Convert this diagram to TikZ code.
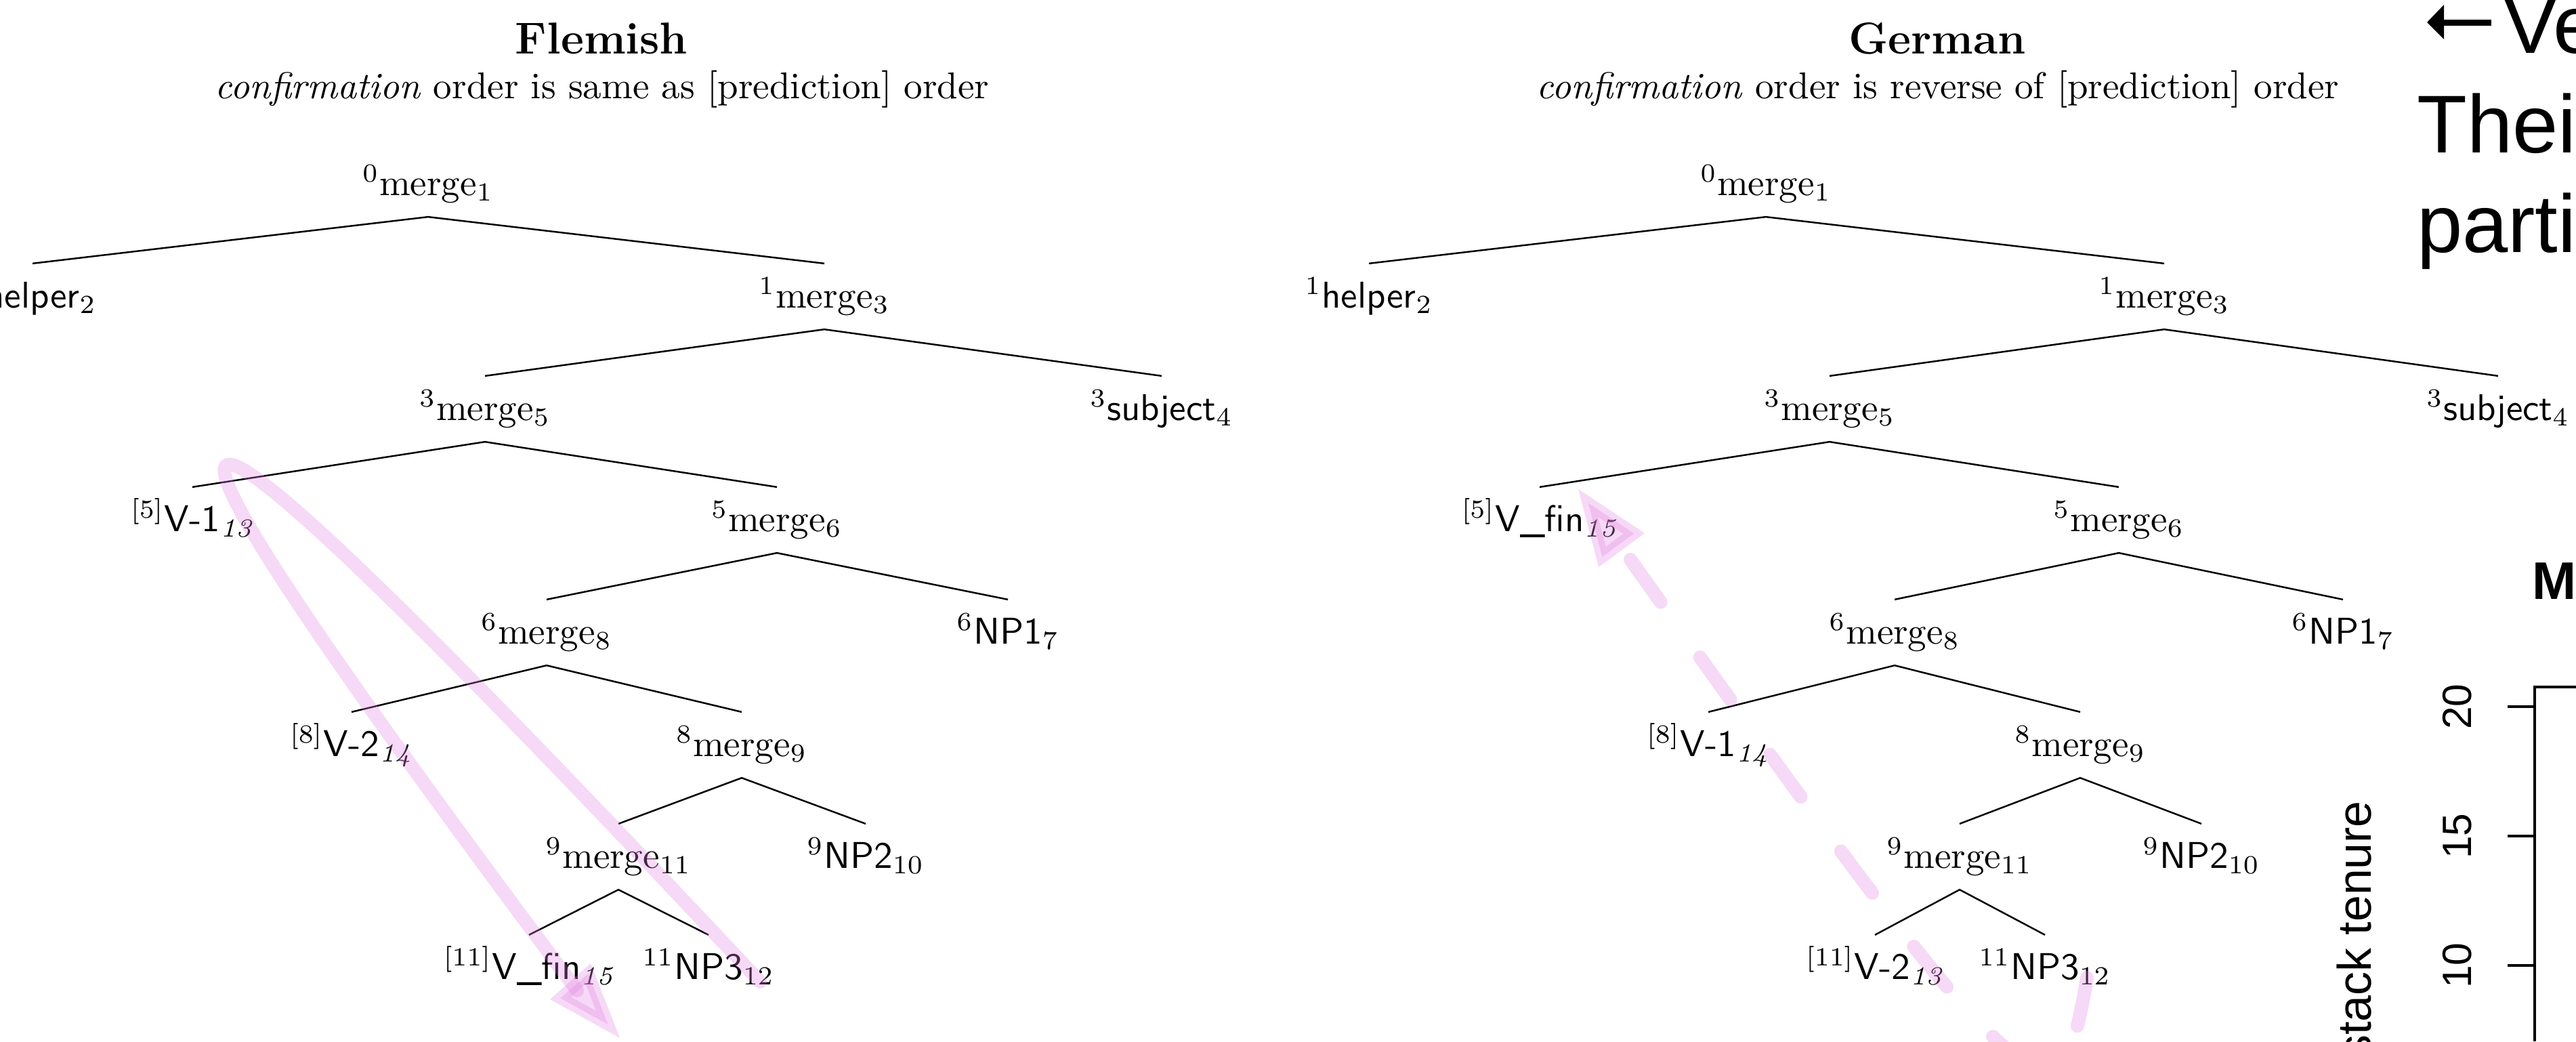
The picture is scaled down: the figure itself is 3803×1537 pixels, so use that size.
\documentclass[tikz,border=0pt]{standalone}
\usepackage{fontspec}
\newfontfamily\helv{Liberation Sans}
\usetikzlibrary{arrows.meta}
\definecolor{hl}{RGB}{228,130,226}
\begin{document}
\begin{tikzpicture}[x=0.181818pt,y=-0.181818pt,
  tn/.style={anchor=base,inner sep=0pt,text height=11.64pt,text depth=5.64pt,font=\fontsize{10}{12}\selectfont},
  branch/.style={line width=0.45pt},
  hlpath/.style={draw=hl,opacity=0.3,line width=3.64pt,line cap=round},
  hlhead/.style={draw=hl,fill=hl,opacity=0.3,line width=3.27pt,line join=miter},
  hldash/.style={dash pattern=on 14pt off 18.18pt},
  ttl/.style={anchor=base,inner sep=0pt,font=\fontsize{12}{14}\selectfont\bfseries},
  subttl/.style={anchor=base,inner sep=0pt,font=\fontsize{10}{12}\selectfont},
  bigtxt/.style={anchor=base west,inner sep=0pt,font=\helv\fontsize{22}{26}\selectfont},
  axline/.style={line width=0.73pt},
  ticklab/.style={rotate=90,anchor=base,inner sep=0pt,font=\helv\fontsize{11}{13}\selectfont},
]
\useasboundingbox (0,0) rectangle (3803,1537);
\fill[white] (0,0) rectangle (3803,1537);

% ---------- titles ----------
\node[ttl] (ftitle) at (888,79) {Flemish};
\node[subttl] (fsub) at (889,145) {\textit{confirmation} order is same as [prediction] order};
\node[ttl] (gtitle) at (2860,79) {German};
\node[subttl] (gsub) at (2861,145) {\textit{confirmation} order is reverse of [prediction] order};

% ---------- Flemish tree ----------
\node[tn] (f0)  at (632,288)  {$^{0}$merge$_{1}$};
\node[tn] (f1)  at (48,454)   {$^{1}$\textsf{helper}$_{2}$};
\node[tn] (f2)  at (1217,454) {$^{1}$merge$_{3}$};
\node[tn] (f3)  at (716,620)  {$^{3}$merge$_{5}$};
\node[tn] (f4)  at (1715,620) {$^{3}$\textsf{subject}$_{4}$};
\node[tn] (f5)  at (284,784)  {$^{[5]}$\textsf{V-1}$_{\mathit{13}}$};
\node[tn] (f6)  at (1147,784) {$^{5}$merge$_{6}$};
\node[tn] (f7)  at (807,950)  {$^{6}$merge$_{8}$};
\node[tn] (f8)  at (1488,950) {$^{6}$\textsf{NP1}$_{7}$};
\node[tn] (f9)  at (519,1116) {$^{[8]}$\textsf{V-2}$_{\mathit{14}}$};
\node[tn] (f10) at (1095,1116) {$^{8}$merge$_{9}$};
\node[tn] (f11) at (913,1281) {$^{9}$merge$_{11}$};
\node[tn] (f12) at (1278,1281) {$^{9}$\textsf{NP2}$_{10}$};
\node[tn] (f13) at (781,1445) {$^{[11]}$\textsf{V\_fin}$_{\mathit{15}}$};
\node[tn] (f14) at (1046,1445) {$^{11}$\textsf{NP3}$_{12}$};

\draw[branch] (f1.north) -- (f0.south) -- (f2.north);
\draw[branch] (f3.north) -- (f2.south) -- (f4.north);
\draw[branch] (f5.north) -- (f3.south) -- (f6.north);
\draw[branch] (f7.north) -- (f6.south) -- (f8.north);
\draw[branch] (f9.north) -- (f7.south) -- (f10.north);
\draw[branch] (f11.north) -- (f10.south) -- (f12.north);
\draw[branch] (f13.north) -- (f11.south) -- (f14.north);

% ---------- German tree ----------
\node[tn] (g0)  at (2607,288)  {$^{0}$merge$_{1}$};
\node[tn] (g1)  at (2021,454)  {$^{1}$\textsf{helper}$_{2}$};
\node[tn] (g2)  at (3195,454)  {$^{1}$merge$_{3}$};
\node[tn] (g3)  at (2701,620)  {$^{3}$merge$_{5}$};
\node[tn] (g4)  at (3688,620)  {$^{3}$\textsf{subject}$_{4}$};
\node[tn] (g5)  at (2273,784)  {$^{[5]}$\textsf{V\_fin}$_{\mathit{15}}$};
\node[tn] (g6)  at (3128,784)  {$^{5}$merge$_{6}$};
\node[tn] (g7)  at (2797,950)  {$^{6}$merge$_{8}$};
\node[tn] (g8)  at (3459,950)  {$^{6}$\textsf{NP1}$_{7}$};
\node[tn] (g9)  at (2522,1116) {$^{[8]}$\textsf{V-1}$_{\mathit{14}}$};
\node[tn] (g10) at (3071,1116) {$^{8}$merge$_{9}$};
\node[tn] (g11) at (2893,1281) {$^{9}$merge$_{11}$};
\node[tn] (g12) at (3250,1281) {$^{9}$\textsf{NP2}$_{10}$};
\node[tn] (g13) at (2768,1445) {$^{[11]}$\textsf{V-2}$_{\mathit{13}}$};
\node[tn] (g14) at (3019,1445) {$^{11}$\textsf{NP3}$_{12}$};

\draw[branch] (g1.north) -- (g0.south) -- (g2.north);
\draw[branch] (g3.north) -- (g2.south) -- (g4.north);
\draw[branch] (g5.north) -- (g3.south) -- (g6.north);
\draw[branch] (g7.north) -- (g6.south) -- (g8.north);
\draw[branch] (g9.north) -- (g7.south) -- (g10.north);
\draw[branch] (g11.north) -- (g10.south) -- (g12.north);
\draw[branch] (g13.north) -- (g11.south) -- (g14.north);

% ---------- right column (cut off by the page edge) ----------
\fill (3583,33) -- (3608,7) -- (3608,58) -- cycle;
\fill (3606,28.5) rectangle (3678,37.5);
\node[bigtxt] (r1) at (3694,78)  {Ve};
\node[bigtxt] (r2) at (3567,225) {Thei};
\node[bigtxt] (r3) at (3567,372) {parti};
\node[anchor=base west,inner sep=0pt,font=\helv\bfseries\fontsize{14.2}{17}\selectfont] (mt) at (3737,884) {M};

\draw[axline,line join=miter] (3803,1014) -- (3742,1014) -- (3742,1537);
\draw[axline] (3702,1043) -- (3742,1043);
\draw[axline] (3702,1234) -- (3742,1234);
\draw[axline] (3702,1425) -- (3742,1425);
\node[ticklab] (t20) at (3648,1043) {20};
\node[ticklab] (t15) at (3648,1234) {15};
\node[ticklab] (t10) at (3648,1425) {10};
\node[rotate=90,anchor=base east,inner sep=0pt,font=\helv\fontsize{12.7}{15}\selectfont] (ylab) at (3500,1181) {stack tenure};

% ---------- pink highlight arrows ----------
% Flemish: from NP3 (12) up to V-1 and back down to V_fin
\coordinate (fs) at (1122,1449);
\coordinate (fend) at (852,1462);
\draw[hlpath] (fs) .. controls (130,390) and (108,469) .. (fend);
\filldraw[hlhead] (897.6,1512.1) -- (827.5,1473.3) -- (868.3,1437.3) -- cycle;

% German: dashed, from NP3 (12) down and back up to V_fin
\coordinate (gs) at (3081,1443);
\coordinate (gb) at (2407,826);
\draw[hlpath,hldash] (gb) .. controls (3002,1663) and (3041,1686) .. (gs);
\filldraw[hlhead] (2344.7,742.5) -- (2412.3,787.4) -- (2365.4,821.9) -- cycle;
\end{tikzpicture}
\end{document}
